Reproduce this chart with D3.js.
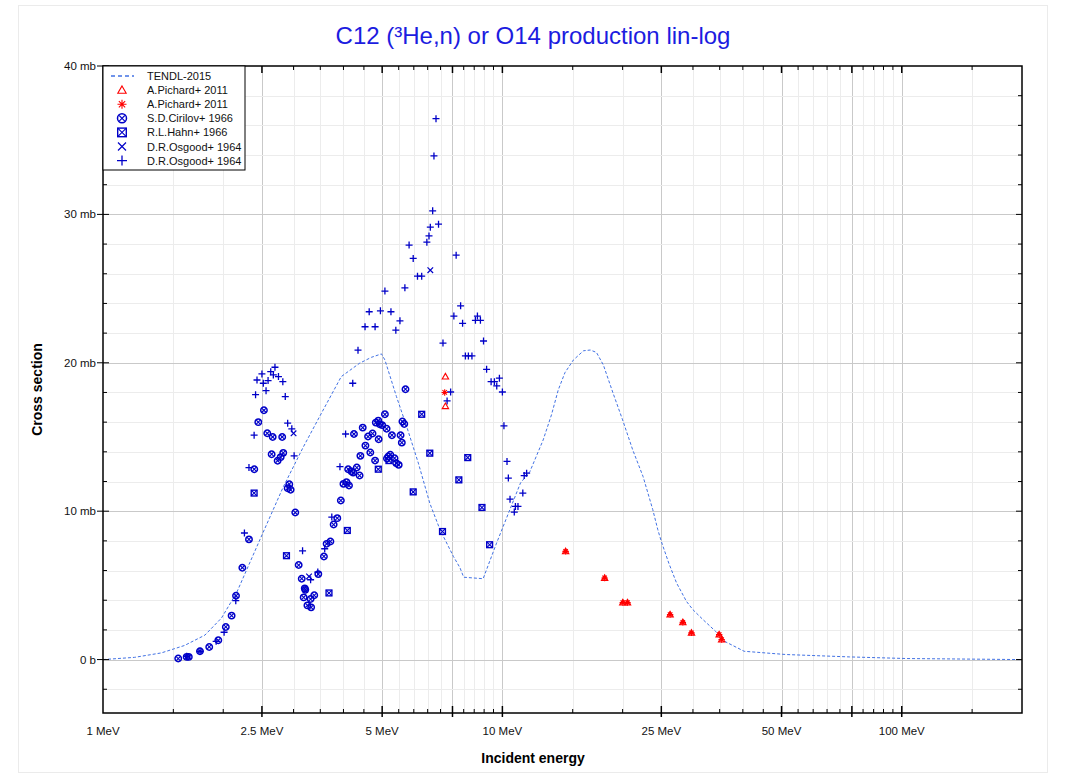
<!DOCTYPE html>
<html><head><meta charset="utf-8">
<script src="https://cdn.jsdelivr.net/npm/d3@7"></script>
<style>body{margin:0;background:#fff;font-family:"Liberation Sans",Arial,sans-serif}</style>
</head><body><svg id="c" width="1071" height="774"></svg>
<script>
// ---------- DATA (energies in MeV, cross sections in mb) ----------
const tendlE  = [1,1.2,1.4,1.6,1.8,1.98,2.16,2.47,2.83,3.17,3.49,3.95,4.39,4.7,4.98,5.08,5.43,5.76,6.16,6.58,6.98,7.54,7.83,8.0,8.95,9.67,11.1,11.72,12.65,13.27,13.8,14.34,15.06,15.96,16.6,17.2,17.9,18.93,20.0,21.2,22.5,23.8,24.5,25,26.1,27.3,28.9,30,31.8,34.2,36,40.3,51.3,74,103,200];
const tendlXS = [0,0.15,0.45,0.95,1.65,2.8,4.5,8.07,11.66,14.3,16.4,19.07,19.97,20.37,20.6,20.19,17.72,15.7,13.24,10.54,8.75,6.95,6.19,5.55,5.45,7.85,11.9,12.67,14.8,16.49,18.17,19.33,20.19,20.81,20.86,20.7,19.85,17.95,16.15,14.13,12.34,10.1,8.75,7.96,6.5,5.16,3.92,3.36,2.69,1.9,1.23,0.56,0.34,0.18,0.07,0];

const pichardTriE  = [7.2,7.2,14.4,18.03,20.02,20.57,26.3,28.3,29.75,34.9,35.4];
const pichardTriXS = [19.07,17.07,7.29,5.5,3.84,3.84,3.03,2.51,1.8,1.68,1.35];
const pichardStarE  = [7.17,14.4,18.03,20.02,20.57,26.3,28.3,29.75,34.9,35.4];
const pichardStarXS = [18.0,7.29,5.5,3.84,3.84,3.03,2.51,1.8,1.68,1.35];

const cirilovE  = [1.543,1.62,1.64,1.749,1.845,1.944,2.03,2.099,2.153,2.233,2.32,2.392,2.448,2.529,2.578,2.66,2.81,2.644,2.737,2.785,2.827,2.927,2.9,2.95,3.03,3.09,3.145,3.2,3.21,3.18,3.31,3.38,3.25,3.32,3.46,3.574,3.63,3.71,3.78,3.86,3.94,4.0,4.07,4.13,4.11,4.19,4.23,4.32,4.39,4.25,4.41,4.47,4.54,4.67,4.61,4.73,4.8,4.9,4.82,4.89,4.93,5.0,5.08,5.13,5.18,5.24,5.14,5.29,5.37,5.42,5.5,5.56,5.6,5.62,5.68,5.72];
const cirilovXS = [0.07,0.18,0.18,0.56,0.85,1.3,2.2,2.96,4.3,6.19,8.1,12.83,16.0,16.8,15.25,15.0,15.0,13.84,13.4,13.64,13.93,11.82,11.55,11.44,9.91,6.37,5.45,4.8,4.7,4.19,4.08,4.33,3.65,3.52,5.76,6.95,7.8,7.96,9.1,9.53,10.72,11.84,11.96,11.73,12.83,12.67,12.6,12.94,12.4,15.2,13.73,15.63,14.42,13.95,15.03,15.23,13.41,14.85,15.97,16.1,15.86,15.8,16.53,15.55,13.68,13.8,13.55,15.12,13.57,13.24,13.12,15.12,14.62,16.04,15.88,18.22];

const hahnE  = [2.39,2.88,3.68,4.09,4.89,5.2,5.98,6.28,6.58,7.08,7.78,8.19,8.89,9.29];
const hahnXS = [11.22,7.0,4.49,8.7,12.83,13.41,11.3,16.53,13.91,8.63,12.11,13.61,10.25,7.74];

const osgoodXE  = [3.0,3.28,6.6];
const osgoodXXS = [15.25,5.6,26.24];

const osgoodPE  = [1.62,1.75,1.92,2.01,2.15,2.26,2.32,2.39,2.41,2.43,2.5,2.52,2.56,2.59,2.63,2.67,2.695,2.75,2.82,2.86,2.9,2.97,3.01,3.16,3.31,3.45,3.59,3.74,3.92,4.05,4.22,4.35,4.53,4.64,4.8,4.95,5.08,5.26,5.41,5.54,5.7,5.84,5.98,6.13,6.28,6.47,6.55,6.6,6.69,6.74,6.82,6.92,7.1,7.27,7.42,7.56,7.66,7.86,7.95,8.08,8.22,8.39,8.56,8.66,8.81,8.97,9.13,9.37,9.55,9.68,9.83,10.0,10.09,10.27,10.35,10.45,10.71,10.78,10.94,11.25,11.34,11.5];
const osgoodPXS = [0.22,0.56,1.23,1.84,3.97,8.53,12.94,15.12,17.85,18.84,19.25,18.62,18.12,18.8,19.4,19.18,19.7,19.07,18.73,17.72,15.93,15.55,13.73,7.33,5.38,5.9,7.47,9.6,13.0,15.2,18.62,20.85,22.43,23.44,22.43,23.5,24.83,23.44,22.2,22.83,25.05,27.93,27.03,25.84,25.84,28.13,28.55,29.14,30.24,33.94,36.45,29.34,21.33,17.43,18.03,23.15,27.25,23.84,22.66,20.46,20.46,20.46,22.86,23.15,22.86,21.47,19.56,18.73,18.73,18.44,18.96,18.03,15.75,13.35,12.23,10.81,9.94,10.32,10.32,11.22,12.4,12.56];

const xTickMajor = [2.5,5,7.5,10,25,50,75,100];
const xTickLabels = [[1,"1 MeV"],[2.5,"2.5 MeV"],[5,"5 MeV"],[10,"10 MeV"],[25,"25 MeV"],[50,"50 MeV"],[100,"100 MeV"]];
const yTickLabels = [[0,"0 b"],[10,"10 mb"],[20,"20 mb"],[30,"30 mb"],[40,"40 mb"]];
const legendItems = ["TENDL-2015","A.Pichard+ 2011","A.Pichard+ 2011","S.D.Cirilov+ 1966","R.L.Hahn+ 1966","D.R.Osgood+ 1964","D.R.Osgood+ 1964"];

// ---------- LAYOUT ----------
const L=103,R=1022,T=66,B=713;
const svg=d3.select("#c");
const x=d3.scaleLog().domain([1,200]).range([L,R]);
const y=d3.scaleLinear().domain([-3.6,40]).range([B,T]);
const blue="#0000c8", red="#ff0000", tendlC="#4272e4";

svg.append("rect").attr("x",18.5).attr("y",5.5).attr("width",1029).attr("height",767).attr("fill","#fff").attr("stroke","#ebebeb");

const xMinor=[];
for(let v=1.5;v<10.01;v+=0.5) xMinor.push(+v.toFixed(2));
for(let v=15;v<100.1;v+=5) xMinor.push(v);
xMinor.push(150);
const isMaj=v=>xTickMajor.some(m=>Math.abs(m-v)<1e-6);
const yVals=d3.range(-2,40,2);

const g=svg.append("g");
g.selectAll(".vg").data(xMinor).join("line")
 .attr("x1",d=>Math.round(x(d))+0.5).attr("x2",d=>Math.round(x(d))+0.5).attr("y1",T).attr("y2",B)
 .attr("stroke",d=>isMaj(d)?"#c9c9c9":"#ececec").attr("stroke-width",1);
g.selectAll(".hg").data(yVals).join("line")
 .attr("y1",d=>Math.round(y(d))+0.5).attr("y2",d=>Math.round(y(d))+0.5).attr("x1",L).attr("x2",R)
 .attr("stroke",d=>d%10===0?"#c9c9c9":"#ececec").attr("stroke-width",1);

const line=d3.line().x((d,i)=>x(tendlE[i])).y((d,i)=>y(tendlXS[i]));
g.append("path").attr("d",line(tendlE)).attr("fill","none").attr("stroke",tendlC).attr("stroke-width",1).attr("stroke-dasharray","3,2");

function plus(sel,E,V,r,col){sel.append("g").selectAll("path").data(E).join("path")
  .attr("d",(d,i)=>{const cx=x(d),cy=y(V[i]);return `M${cx-r},${cy}H${cx+r}M${cx},${cy-r}V${cy+r}`;})
  .attr("stroke",col).attr("stroke-width",1.3).attr("fill","none");}
function cross(sel,E,V,r,col){sel.append("g").selectAll("path").data(E).join("path")
  .attr("d",(d,i)=>{const cx=x(d),cy=y(V[i]);return `M${cx-r},${cy-r}L${cx+r},${cy+r}M${cx-r},${cy+r}L${cx+r},${cy-r}`;})
  .attr("stroke",col).attr("stroke-width",1.2).attr("fill","none");}
function ocross(sel,E,V,r,col){const gg=sel.append("g").selectAll("g").data(E).join("g")
  .attr("transform",(d,i)=>`translate(${x(d)},${y(V[i])})`);
  gg.append("circle").attr("r",r).attr("fill","none").attr("stroke",col).attr("stroke-width",1.5);
  const q=r*0.62; gg.append("path").attr("d",`M${-q},${-q}L${q},${q}M${-q},${q}L${q},${-q}`).attr("stroke",col).attr("stroke-width",1.1);}
function sqcross(sel,E,V,r,col){const gg=sel.append("g").selectAll("g").data(E).join("g")
  .attr("transform",(d,i)=>`translate(${x(d)},${y(V[i])})`);
  gg.append("rect").attr("x",-r).attr("y",-r).attr("width",2*r).attr("height",2*r).attr("fill","none").attr("stroke",col).attr("stroke-width",1.4);
  gg.append("path").attr("d",`M${-r},${-r}L${r},${r}M${-r},${r}L${r},${-r}`).attr("stroke",col).attr("stroke-width",1.1);}
function tri(sel,E,V,r,col){sel.append("g").selectAll("path").data(E).join("path")
  .attr("d",(d,i)=>{const cx=x(d),cy=y(V[i]);return `M${cx},${cy-r}L${cx+r},${cy+r*0.75}L${cx-r},${cy+r*0.75}Z`;})
  .attr("stroke",col).attr("stroke-width",1.1).attr("fill","none");}
function star(sel,E,V,r,col){sel.append("g").selectAll("path").data(E).join("path")
  .attr("d",(d,i)=>{const cx=x(d),cy=y(V[i]);const q=r*0.7;return `M${cx-r},${cy}H${cx+r}M${cx},${cy-r}V${cy+r}M${cx-q},${cy-q}L${cx+q},${cy+q}M${cx-q},${cy+q}L${cx+q},${cy-q}`;})
  .attr("stroke",col).attr("stroke-width",1.1).attr("fill","none");}

const pts=svg.append("g");
ocross(pts,cirilovE,cirilovXS,3.2,blue);
sqcross(pts,hahnE,hahnXS,2.9,blue);
cross(pts,osgoodXE,osgoodXXS,2.8,blue);
plus(pts,osgoodPE,osgoodPXS,3.5,blue);
tri(pts,pichardTriE,pichardTriXS,3.2,red);
star(pts,pichardStarE,pichardStarXS,3.2,red);

const ax=svg.append("g");
ax.append("rect").attr("x",L).attr("y",T).attr("width",R-L).attr("height",B-T).attr("fill","none").attr("stroke","#000").attr("stroke-width",1.5);
ax.selectAll(".bt").data(xMinor).join("line").attr("x1",d=>x(d)).attr("x2",d=>x(d))
  .attr("y1",d=>isMaj(d)?B+4:B).attr("y2",d=>isMaj(d)?B-7:B-4).attr("stroke","#000").attr("stroke-width",d=>isMaj(d)?1.5:1);
ax.selectAll(".tt").data(xMinor).join("line").attr("x1",d=>x(d)).attr("x2",d=>x(d))
  .attr("y1",T).attr("y2",d=>isMaj(d)?T+7:T+4).attr("stroke","#000").attr("stroke-width",d=>isMaj(d)?1.5:1);
ax.selectAll(".lt").data(yVals.concat([40])).join("line").attr("y1",d=>y(d)).attr("y2",d=>y(d))
  .attr("x1",d=>d%10===0?L-6:L).attr("x2",d=>d%10===0?L+6:L+4).attr("stroke","#000").attr("stroke-width",1);
ax.selectAll(".rt").data(yVals).join("line").attr("y1",d=>y(d)).attr("y2",d=>y(d))
  .attr("x1",R).attr("x2",d=>d%10===0?R-6:R-4).attr("stroke","#000").attr("stroke-width",1);

ax.selectAll(".xl").data(xTickLabels).join("text").attr("x",d=>x(d[0])).attr("y",B+22)
  .attr("text-anchor","middle").attr("font-size","11.5px").attr("fill","#111").text(d=>d[1]);
ax.selectAll(".yl").data(yTickLabels).join("text").attr("x",L-7).attr("y",d=>y(d[0])+4)
  .attr("text-anchor","end").attr("font-size","11.5px").attr("fill","#111").text(d=>d[1]);

svg.append("text").attr("x",533).attr("y",763).attr("text-anchor","middle").attr("font-weight","bold").attr("font-size","14px").text("Incident energy");
svg.append("text").attr("transform",`translate(42,${(T+B)/2}) rotate(-90)`).attr("text-anchor","middle").attr("font-weight","bold").attr("font-size","14px").text("Cross section");
svg.append("text").attr("x",533).attr("y",44).attr("text-anchor","middle").attr("font-size","24px").attr("fill","#1c1ce0").text("C12 (³He,n) or O14 production lin-log");

const lg=svg.append("g");
lg.append("rect").attr("x",L).attr("y",T).attr("width",142).attr("height",104).attr("fill","#fff").attr("stroke","#000").attr("stroke-width",1);
const ly=i=>T+10+i*14.1;
lg.append("line").attr("x1",111).attr("x2",134).attr("y1",ly(0)).attr("y2",ly(0)).attr("stroke",tendlC).attr("stroke-width",1.6).attr("stroke-dasharray","4,3");
tri(lg,[x.invert(122)],[y.invert(ly(1))],4.2,red);
star(lg,[x.invert(122)],[y.invert(ly(2))],4.5,red);
ocross(lg,[x.invert(122)],[y.invert(ly(3))],4.5,blue);
sqcross(lg,[x.invert(122)],[y.invert(ly(4))],4.3,blue);
cross(lg,[x.invert(122)],[y.invert(ly(5))],4,blue);
plus(lg,[x.invert(122)],[y.invert(ly(6))],5,blue);
lg.selectAll(".lt").data(legendItems).join("text").attr("x",147).attr("y",(d,i)=>ly(i)+4)
  .attr("font-size","11px").attr("fill","#111").text(d=>d);
</script></body></html>
